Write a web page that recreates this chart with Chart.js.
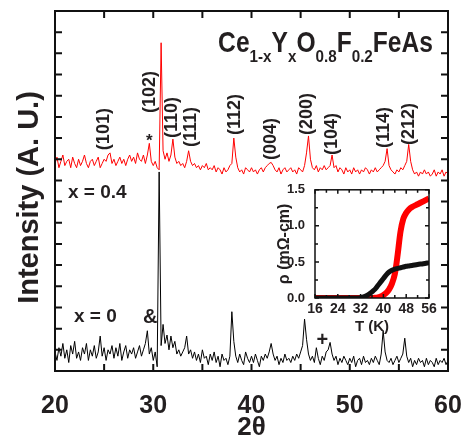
<!DOCTYPE html>
<html>
<head>
<meta charset="utf-8">
<script src="https://cdn.jsdelivr.net/npm/chart.js@4.4.1/dist/chart.umd.min.js"></script>
<style>
  html, body { margin: 0; padding: 0; background: #fff; }
  #wrap { position: relative; width: 468px; height: 441px; }
  #xrd { position: absolute; left: 0; top: 0; }
  #rho { position: absolute; left: 262px; top: 180px; }
</style>
</head>
<body>
<div id="wrap">
  <canvas id="xrd" width="468" height="441"></canvas>
  <canvas id="rho" width="200" height="160"></canvas>
</div>
<script>
const FONT = '"Liberation Sans", Arial, Helvetica, sans-serif';
const INK = '#231f20';

// XRD scans, one value every 0.2 deg of 2theta, from 20 to 60
const thetaStart = 20;
const thetaStep = 0.2;

// x = 0.4 (red, offset upward)
const intensityX04 = [
  9.8, 10.1, 9.6, 9.9, 10.2, 9.7, 9.9, 10.0, 9.6, 10.1,
  9.8, 9.6, 10.0, 9.7, 9.9, 10.2, 9.8, 9.6, 9.9, 10.0,
  9.7, 9.9, 10.1, 9.6, 9.8, 10.0, 9.9, 10.2, 10.3, 9.8,
  10.0, 9.7, 9.9, 10.1, 9.8, 10.0, 9.7, 10.0, 10.2, 9.9,
  10.1, 9.8, 10.3, 10.0, 9.9, 10.2, 9.8, 10.2, 10.75, 9.9,
  9.7, 9.9, 9.6, 9.5, 15.5, 10.4, 10.0, 10.3, 9.9, 10.2,
  10.95, 10.1, 9.8, 9.9, 9.7, 9.8, 9.6, 9.9, 10.4, 9.9,
  9.7, 9.8, 9.6, 9.7, 9.5, 9.7, 9.6, 9.8, 9.5, 9.6,
  9.5, 9.7, 9.4, 9.6, 9.5, 9.3, 9.6, 9.4, 9.5, 9.7,
  9.8, 11.0, 10.1, 9.6, 9.4, 9.5, 9.3, 9.6, 9.5, 9.4,
  9.6, 9.4, 9.5, 9.3, 9.5, 9.6, 9.4, 9.6, 9.7, 9.8,
  9.85, 9.7, 9.5, 9.4, 9.6, 9.3, 9.5, 9.6, 9.4, 9.5,
  9.6, 9.4, 9.5, 9.3, 9.6, 9.5, 9.4, 9.7, 10.3, 11.1,
  10.0, 9.6, 9.5, 9.7, 9.4, 9.6, 9.5, 9.7, 9.5, 9.6,
  9.7, 10.2, 9.6, 9.7, 9.4, 9.6, 9.5, 9.3, 9.6, 9.4,
  9.5, 9.3, 9.6, 9.4, 9.5, 9.3, 9.5, 9.4, 9.6, 9.5,
  9.3, 9.5, 9.4, 9.6, 9.4, 9.5, 9.6, 9.7, 9.9, 10.5,
  9.7, 9.5, 9.4, 9.3, 9.5, 9.4, 9.6, 9.5, 9.7, 9.9,
  10.7, 9.9, 9.5, 9.3, 9.4, 9.2, 9.4, 9.3, 9.5, 9.3,
  9.4, 9.2, 9.3, 9.5, 9.2, 9.4, 9.3, 9.5, 9.2, 9.4,
  9.3
];

// x = 0 (black)
const intensityX0 = [
  0.9, 0.5, 1.1, 0.7, 1.3, 0.6, 1.0, 0.4, 1.2, 0.8,
  1.4, 0.6, 0.9, 0.5, 1.1, 0.8, 1.3, 0.5, 1.0, 0.7,
  1.2, 0.6, 0.9, 1.65, 0.7, 1.1, 0.5, 1.0, 0.8, 1.2,
  0.6, 1.1, 0.7, 1.3, 0.5, 0.9, 1.2, 0.6, 1.0, 0.8,
  1.1, 0.6, 0.9, 1.2, 0.7, 1.0, 1.3, 1.9, 0.8, 1.1,
  0.5, 0.9, 0.2, 9.4, 1.2, 2.2, 1.3, 1.7, 1.0, 1.65,
  1.1, 1.4, 0.8, 1.0, 0.7, 0.9, 1.1, 1.65, 0.8, 1.0,
  0.6, 0.9, 0.5, 0.8, 0.4, 1.0, 0.6, 0.7, 0.3, 0.8,
  0.5, 0.9, 0.4, 0.7, 0.2, 0.8, 0.5, 0.6, 0.3, 0.7,
  2.8, 1.4, 0.7, 0.4, 0.8, 0.5, 0.3, 0.9, 0.6, 0.4,
  0.7, 0.4, 0.8, 0.5, 0.2, 0.7, 0.5, 0.8, 0.6, 0.9,
  1.3, 0.8, 0.5, 0.7, 0.3, 0.6, 0.4, 0.8, 0.5, 0.6,
  0.4, 0.7, 0.5, 0.8, 0.6, 0.9, 1.2, 2.45, 1.5, 0.8,
  0.5, 0.7, 0.4, 1.1, 0.6, 0.3, 0.7, 0.5, 0.9, 1.0,
  1.35, 0.8, 0.5, 0.7, 0.3, 0.6, 0.4, 0.7, 0.5, 0.3,
  0.6, 0.4, 0.7, 0.2, 0.5, 0.6, 0.3, 0.7, 0.4, 0.5,
  0.3, 0.6, 0.4, 0.7, 0.5, 0.3, 0.8, 1.9, 0.9, 0.5,
  0.4, 0.6, 0.3, 0.5, 0.7, 0.4, 0.6, 0.8, 1.55, 0.7,
  0.4, 0.6, 0.2, 0.5, 0.3, 0.6, 0.4, 0.5, 0.2, 0.6,
  0.3, 0.5, 0.4, 0.2, 0.6, 0.3, 0.5, 0.4, 0.6, 0.3,
  0.5
];

// peak indices written above the x = 0.4 scan
const peakLabels = ['(101)', '(102)', '(110)', '(111)', '(112)', '(004)', '(200)', '(104)', '(114)', '(212)'];
const peakLabelTheta = [24.94, 29.67, 31.96, 33.89, 38.32, 42.03, 45.7, 48.19, 53.49, 56.03];
const peakLabelBase = [10.43, 12.18, 11.0, 10.58, 11.14, 9.96, 11.14, 10.2, 10.53, 10.67];

// resistivity inset
const tempK = [16, 20, 24, 28, 30, 32, 33, 34, 35, 36, 37, 38, 39, 40, 41, 42, 43, 44, 45, 46, 47, 48, 49, 50, 52, 54, 56];
const rhoX0 = [0, 0, 0, 0, 0, 0.005, 0.015, 0.03, 0.055, 0.085, 0.12, 0.17, 0.22, 0.27, 0.32, 0.36, 0.385, 0.40, 0.41, 0.42, 0.43, 0.44, 0.445, 0.45, 0.465, 0.475, 0.49];
const rhoX04 = [0, 0, 0, 0, 0, 0, 0, 0, 0, 0, 0.003, 0.008, 0.02, 0.04, 0.07, 0.12, 0.2, 0.33, 0.6, 0.92, 1.1, 1.18, 1.23, 1.26, 1.3, 1.34, 1.38];

const formulaParts = [['Ce', false], ['1-x', true], ['Y', false], ['x', true], ['O', false], ['0.8', true], ['F', false], ['0.2', true], ['FeAs', false]];

Chart.defaults.font.family = FONT;
Chart.defaults.color = INK;

function toPoints(values) {
  return values.map((v, i) => ({ x: thetaStart + i * thetaStep, y: v }));
}

// inward tick marks on all four sides plus a closed frame
function frameTicks(len, minorLen, lw, xMinor, yMinor) {
  return {
    id: 'frameTicks',
    afterDatasetsDraw(chart) {
      const { ctx, chartArea: a, scales: { x, y } } = chart;
      ctx.save();
      ctx.strokeStyle = '#111';
      ctx.lineWidth = lw;
      ctx.beginPath();
      x.ticks.forEach(t => {
        const marks = [[t.value, len]];
        if (xMinor && t.value + xMinor < x.max) marks.push([t.value + xMinor, minorLen]);
        marks.forEach(([v, l]) => {
          const px = x.getPixelForValue(v);
          ctx.moveTo(px, a.bottom); ctx.lineTo(px, a.bottom - l);
          ctx.moveTo(px, a.top); ctx.lineTo(px, a.top + l);
        });
      });
      y.ticks.forEach(t => {
        const marks = [[t.value, len]];
        if (yMinor && t.value + yMinor < y.max) marks.push([t.value + yMinor, minorLen]);
        marks.forEach(([v, l]) => {
          const py = y.getPixelForValue(v);
          ctx.moveTo(a.left, py); ctx.lineTo(a.left + l, py);
          ctx.moveTo(a.right, py); ctx.lineTo(a.right - l, py);
        });
      });
      ctx.stroke();
      ctx.strokeRect(a.left, a.top, a.width, a.height);
      ctx.restore();
    }
  };
}

const xrdNotes = {
  id: 'xrdNotes',
  afterDatasetsDraw(chart) {
    const { ctx, chartArea: a, scales: { x, y } } = chart;
    ctx.save();
    ctx.fillStyle = INK;

    // y axis title, a little below the middle of the frame
    ctx.save();
    ctx.font = 'bold 29px ' + FONT;
    ctx.textAlign = 'center';
    ctx.textBaseline = 'alphabetic';
    ctx.translate(a.left - 17.5, (a.top + a.bottom) / 2 + 6.5);
    ctx.rotate(-Math.PI / 2);
    ctx.fillText('Intensity (A. U.)', 0, 0);
    ctx.restore();

    // rotated hkl labels
    ctx.font = 'bold 18px ' + FONT;
    ctx.textAlign = 'left';
    ctx.textBaseline = 'middle';
    peakLabels.forEach((txt, i) => {
      ctx.save();
      ctx.translate(x.getPixelForValue(peakLabelTheta[i]), y.getPixelForValue(peakLabelBase[i]));
      ctx.rotate(-Math.PI / 2);
      ctx.fillText(txt, 0, 0);
      ctx.restore();
    });

    // impurity markers
    ctx.textAlign = 'center';
    ctx.textBaseline = 'alphabetic';
    ctx.font = 'bold 17px ' + FONT;
    ctx.fillText('*', x.getPixelForValue(29.6), y.getPixelForValue(10.62));
    ctx.textBaseline = 'middle';
    ctx.font = 'bold 20px ' + FONT;
    ctx.fillText('+', x.getPixelForValue(47.2), y.getPixelForValue(1.42));
    ctx.textAlign = 'left';
    ctx.fillText('&', x.getPixelForValue(28.95), y.getPixelForValue(2.55));

    // sample labels
    ctx.font = 'bold 19px ' + FONT;
    ctx.fillText('x = 0.4', x.getPixelForValue(21.32), y.getPixelForValue(8.43));
    ctx.fillText('x = 0', x.getPixelForValue(21.93), y.getPixelForValue(2.57));

    // formula, right aligned, with subscripts
    ctx.textBaseline = 'alphabetic';
    const big = 'bold 30px ' + FONT, small = 'bold 16px ' + FONT;
    const widths = formulaParts.map(([t, sub]) => {
      ctx.font = sub ? small : big;
      return ctx.measureText(t).width * (sub ? 0.95 : 0.82);
    });
    let px = x.getPixelForValue(58.47) - widths.reduce((s, w) => s + w, 0);
    const base = y.getPixelForValue(15.06);
    formulaParts.forEach(([t, sub], i) => {
      ctx.save();
      ctx.font = sub ? small : big;
      ctx.translate(px, base + (sub ? 10 : 0));
      ctx.scale(sub ? 0.95 : 0.82, 1);
      ctx.fillText(t, 0, 0);
      ctx.restore();
      px += widths[i];
    });
    ctx.restore();
  }
};

new Chart(document.getElementById('xrd'), {
  type: 'line',
  data: {
    datasets: [
      { data: toPoints(intensityX04), borderColor: '#ff0000', borderWidth: 1, pointRadius: 0, tension: 0 },
      { data: toPoints(intensityX0), borderColor: '#000000', borderWidth: 1, pointRadius: 0, tension: 0 }
    ]
  },
  options: {
    responsive: false,
    animation: false,
    events: [],
    layout: { padding: { top: 11, right: 20, left: 0, bottom: 0 } },
    plugins: { legend: { display: false }, tooltip: { enabled: false } },
    scales: {
      x: {
        type: 'linear', min: 20, max: 60,
        afterFit: s => { s.height = 70; s.paddingLeft = 0; s.paddingRight = 0; },
        grid: { display: false }, border: { display: false },
        ticks: {
          stepSize: 5, autoSkip: false, maxRotation: 0, padding: 12, color: INK,
          font: { size: 25, weight: 'bold' },
          callback: v => (v % 10 === 0 ? v : '')
        },
        title: { display: true, text: '2θ', color: INK, font: { size: 26, weight: 'bold', lineHeight: 1 }, padding: { top: 0, bottom: 0 } }
      },
      y: {
        min: 0, max: 17,
        afterFit: s => { s.width = 55; },
        grid: { display: false }, border: { display: false },
        ticks: { display: false, stepSize: 1 }
      }
    }
  },
  plugins: [frameTicks(7, 7, 2, 0, 0), xrdNotes]
});

new Chart(document.getElementById('rho'), {
  type: 'line',
  data: {
    datasets: [
      { data: rhoX0, borderColor: '#111111', borderWidth: 5, pointRadius: 0, tension: 0.3 },
      { data: rhoX04, borderColor: '#ff0000', borderWidth: 6, pointRadius: 0, tension: 0.3 }
    ].map(d => ({ ...d, data: d.data.map((v, i) => ({ x: tempK[i], y: v })) }))
  },
  options: {
    responsive: false,
    animation: false,
    events: [],
    layout: { padding: { top: 9, right: 33, left: 0, bottom: 0 } },
    plugins: { legend: { display: false }, tooltip: { enabled: false } },
    scales: {
      x: {
        type: 'linear', min: 16, max: 56,
        afterFit: s => { s.height = 42; s.paddingLeft = 0; s.paddingRight = 0; },
        grid: { display: false }, border: { display: false },
        ticks: { stepSize: 8, autoSkip: false, maxRotation: 0, padding: -4, color: INK, font: { size: 14, weight: 'bold', lineHeight: 1 } },
        title: { display: true, text: 'T (K)', color: INK, font: { size: 15, weight: 'bold', lineHeight: 1 }, padding: { top: 0, bottom: 6 } }
      },
      y: {
        min: 0, max: 1.5,
        afterFit: s => { s.width = 53; },
        grid: { display: false }, border: { display: false },
        ticks: { stepSize: 0.5, padding: 2, color: INK, font: { size: 13, weight: 'bold' }, callback: v => v.toFixed(1) },
        title: { display: true, text: 'ρ (mΩ-cm)', color: INK, font: { size: 16, weight: 'bold', lineHeight: 1 }, padding: { top: 15, bottom: 0 } }
      }
    }
  },
  plugins: [frameTicks(4, 3, 1.5, 4, 0.25)]
});
</script>
</body>
</html>
